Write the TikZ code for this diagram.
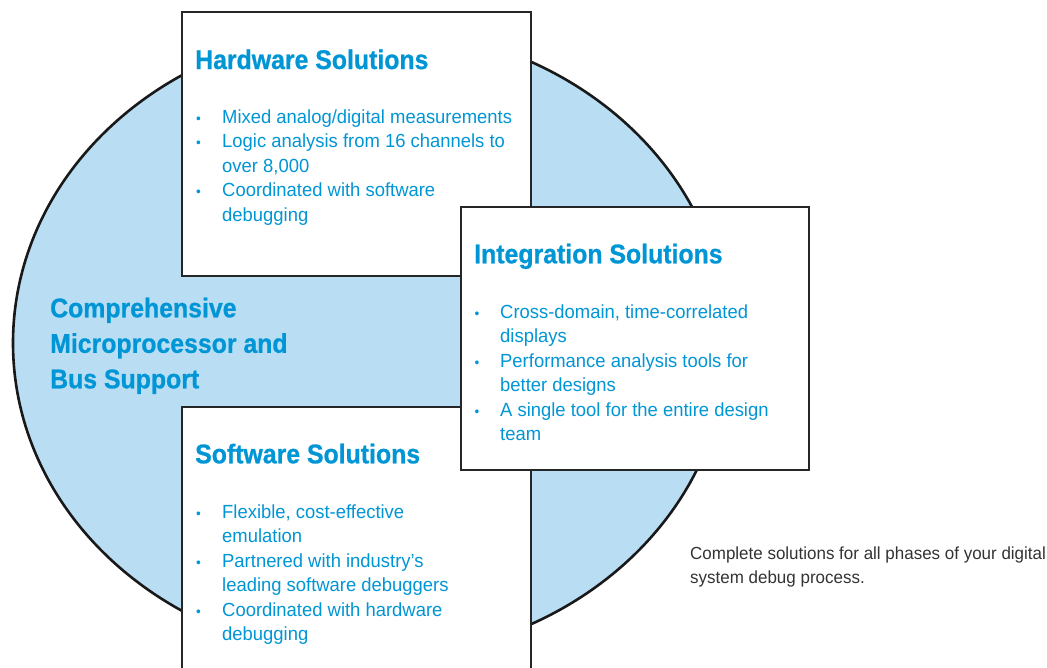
\documentclass[tikz,border=0pt]{standalone}
\usepackage{fontspec}
\setmainfont{Liberation Sans}
\newfontfamily\bodyfont[FakeStretch=0.97]{Liberation Sans}
\newfontfamily\headfont[FakeStretch=0.92,FakeBold=0.8]{Liberation Sans Bold}
\usetikzlibrary{shapes.geometric}
\definecolor{agblue}{HTML}{0096D6}
\definecolor{discfill}{HTML}{B9DEF4}
\definecolor{boxline}{HTML}{262626}
\definecolor{captext}{HTML}{333333}
\tikzset{
  solbox/.style={draw=boxline, line width=2.8pt, fill=white, rectangle, inner sep=0pt, outer sep=0pt, anchor=north west},
  soltitle/.style={anchor=base west, inner sep=0pt, text=agblue, font=\headfont\fontsize{27}{32}\selectfont},
  bulletmark/.style={anchor=base west, inner sep=0pt, text=agblue, font=\bodyfont\fontsize{14}{24.5}\selectfont},
  bulletitem/.style={anchor=base west, inner sep=0pt, text=agblue, align=left, font=\bodyfont\fontsize{19}{24.5}\selectfont},
  discnote/.style={anchor=base west, inner sep=0pt, text=agblue, align=left, font=\headfont\fontsize{27}{35.5}\selectfont},
  caption/.style={anchor=base west, inner sep=0pt, text=captext, align=left, font=\bodyfont\fontsize{17.5}{24}\selectfont}
}
\begin{document}
\begin{tikzpicture}[x=1pt,y=-1pt]
\useasboundingbox (0,0) rectangle (1047,667);
\clip (0,0) rectangle (1047,667);
% disc
\node[ellipse, draw=black!90, line width=2.6pt, fill=discfill, minimum width=714pt, minimum height=630pt, inner sep=0pt] (disc) at (370,343) {};
% boxes
\node[solbox, minimum width=349pt, minimum height=264pt] (hw) at (182,12) {};
\node[solbox, minimum width=349pt, minimum height=300pt] (sw) at (182,407) {};
\node[solbox, minimum width=348pt, minimum height=263pt] (int) at (461,207) {};
% center text (anchor at baseline of last line)
\node[discnote] (core) at (50,388.3) {Comprehensive\\Microprocessor and\\Bus Support};
% hardware
\node[soltitle] (hwt) at (195,69) {Hardware Solutions};
\node[bulletmark] (hwb1) at (196,123.3) {•};
\node[bulletitem] (hwi1) at (222,123.3) {Mixed analog/digital measurements};
\node[bulletmark] (hwb2) at (196,147.8) {•};
\node[bulletitem] (hwi2) at (222,172.3) {Logic analysis from 16 channels to\\over 8,000};
\node[bulletmark] (hwb3) at (196,196.8) {•};
\node[bulletitem] (hwi3) at (222,221.3) {Coordinated with software\\debugging};
% integration
\node[soltitle] (intt) at (474,263.3) {Integration Solutions};
\node[bulletmark] (intb1) at (474.5,318.3) {•};
\node[bulletitem] (inti1) at (500,342.8) {Cross-domain, time-correlated\\displays};
\node[bulletmark] (intb2) at (474.5,367.3) {•};
\node[bulletitem] (inti2) at (500,391.8) {Performance analysis tools for\\better designs};
\node[bulletmark] (intb3) at (474.5,416.3) {•};
\node[bulletitem] (inti3) at (500,440.8) {A single tool for the entire design\\team};
% software
\node[soltitle] (swt) at (195,463.3) {Software Solutions};
\node[bulletmark] (swb1) at (196,518.3) {•};
\node[bulletitem] (swi1) at (222,542.8) {Flexible, cost-effective\\emulation};
\node[bulletmark] (swb2) at (196,567.3) {•};
\node[bulletitem] (swi2) at (222,591.8) {Partnered with industry’s\\leading software debuggers};
\node[bulletmark] (swb3) at (196,616.3) {•};
\node[bulletitem] (swi3) at (222,640.8) {Coordinated with hardware\\debugging};
% caption
\node[caption] (cap) at (690,583) {Complete solutions for all phases of your digital\\system debug process.};
\end{tikzpicture}
\end{document}
